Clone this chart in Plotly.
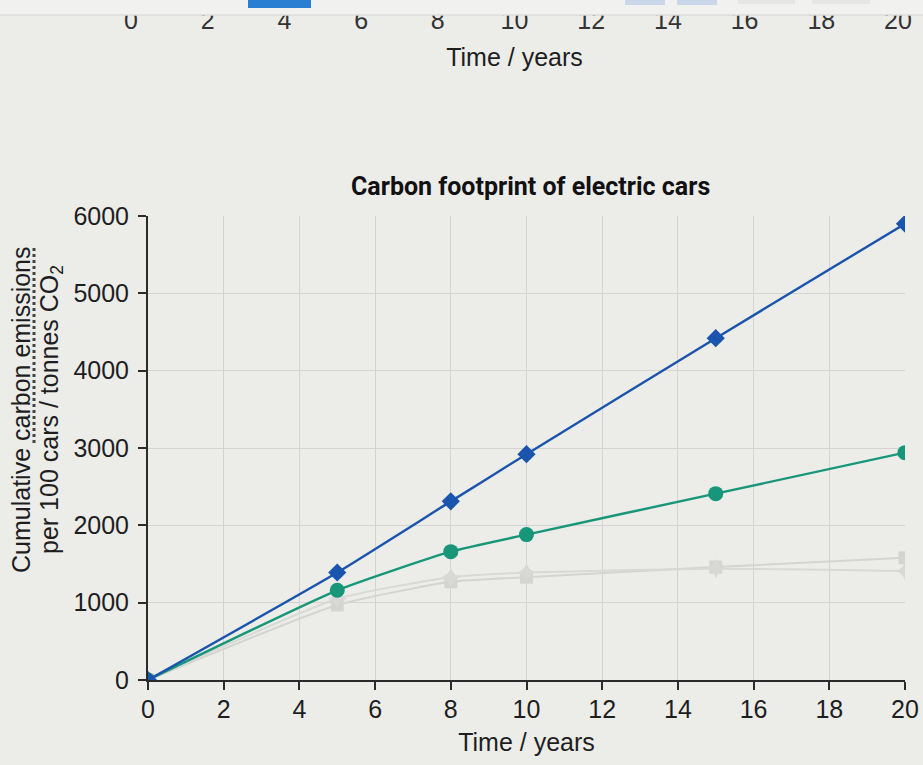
import plotly.graph_objects as go

years = [0, 5, 8, 10, 15, 20]
blue_series = [0, 1390, 2310, 2920, 4420, 5900]
green_series = [0, 1160, 1660, 1880, 2410, 2940]
gray_square = [0, 970, 1270, 1330, 1460, 1580]
gray_star = [0, 1050, 1330, 1390, 1440, 1410]

x_ticks = list(range(0, 21, 2))
y_ticks = list(range(0, 6001, 1000))

title_text = "Carbon footprint of electric cars"
x_title = "Time / years"
y_title_line1 = "Cumulative carbon emissions"
y_title_line2 = "per 100 cars / tonnes CO<sub>2</sub>"

W, H = 923, 765
PH = 680  # plot-area height (t=0, b=85)
BG = "#ecece9"
TOPBAR = "#f1f1ef"
GRID = "#d3d3d1"
AX = "#2b2b2b"
SANS = "Liberation Sans, Arial, sans-serif"

fig = go.Figure()

def add(y, color, symbol, size, lw):
    fig.add_trace(go.Scatter(
        x=years, y=y, mode="lines+markers",
        line=dict(color=color, width=lw, shape="spline", smoothing=0.5),
        marker=dict(symbol=symbol, size=size, color=color),
        showlegend=False, xaxis="x", yaxis="y"))

add(gray_square, "#d4d4d2", "square", 13, 2)
add(gray_star, "#d8d8d6", "star-diamond", 14, 2)
add(green_series, "#17967a", "circle", 15, 2.4)
add(blue_series, "#1b54ad", "diamond", 14, 2.4)

# partial top axis (previous chart cut off by the screen edge)
fig.add_trace(go.Scatter(x=[0, 20], y=[0, 0], mode="markers", marker=dict(opacity=0),
                         showlegend=False, hoverinfo="skip", xaxis="x2", yaxis="y2"))

def px_x(p):
    return p / W

def px_y(p):
    return 1 - p / PH

fig.update_layout(
    width=W, height=H,
    margin=dict(l=0, r=0, t=0, b=85),
    paper_bgcolor=BG, plot_bgcolor=BG,
    font=dict(family=SANS, color="#1e1e1e"),
    xaxis=dict(domain=[px_x(148), px_x(905)], anchor="y", range=[0, 20],
               tickvals=x_ticks, ticks="outside", ticklen=8, tickwidth=2, tickcolor=AX,
               showline=True, linecolor=AX, linewidth=2,
               showgrid=True, gridcolor=GRID, gridwidth=1, zeroline=False,
               tickfont=dict(size=25, family=SANS), ticklabelstandoff=-2,
               title=dict(text=x_title, font=dict(size=25, family=SANS), standoff=11),
               automargin=False),
    yaxis=dict(domain=[0, px_y(216)], anchor="x", range=[0, 6000],
               tickvals=y_ticks, ticks="outside", ticklen=8, tickwidth=2, tickcolor=AX,
               showline=True, linecolor=AX, linewidth=2,
               showgrid=True, gridcolor=GRID, gridwidth=1, zeroline=False,
               tickfont=dict(size=25, family=SANS), ticklabelstandoff=4,
               automargin=False),
    xaxis2=dict(domain=[px_x(131), px_x(898)], anchor="y2", range=[0, 20],
                tickvals=x_ticks, ticks="", showline=False, showgrid=False, zeroline=False,
                tickfont=dict(size=25, family=SANS, color="#333"), ticklabelstandoff=1,
                title=dict(text=x_title, font=dict(size=25, family=SANS), standoff=15),
                automargin=False),
    yaxis2=dict(domain=[0.997, 1], anchor="x2", visible=False, range=[-1, 1]),
    annotations=[
        dict(text="<b>" + title_text + "</b>", x=px_x(530), y=px_y(186),
             xref="paper", yref="paper", xanchor="center", yanchor="middle", showarrow=False,
             font=dict(size=25, family="Roboto, Arial, sans-serif", color="#111")),
        dict(text=y_title_line1, x=px_x(21), y=px_y(410), textangle=-90,
             xref="paper", yref="paper", xanchor="center", yanchor="middle", showarrow=False,
             font=dict(size=25, family=SANS, color="#1e1e1e")),
        dict(text=y_title_line2, x=px_x(51), y=px_y(410), textangle=-90,
             xref="paper", yref="paper", xanchor="center", yanchor="middle", showarrow=False,
             font=dict(size=25, family=SANS, color="#1e1e1e")),
    ],
    shapes=[
        # dotted underline (glossary link) under "carbon emissions"
        dict(type="line", xref="paper", yref="paper", x0=px_x(34), x1=px_x(34),
             y0=px_y(443), y1=px_y(245), line=dict(color="#444", width=3, dash="dot")),
        # screen top bar covering the upper part of the previous chart's tick labels
        dict(type="rect", xref="paper", yref="paper", x0=0, x1=1,
             y0=px_y(15), y1=1.05, fillcolor=TOPBAR, line=dict(width=0), layer="above"),
        dict(type="line", xref="paper", yref="paper", x0=0, x1=1,
             y0=px_y(15), y1=px_y(15), line=dict(color="#dcdcda", width=1.5), layer="above"),
        dict(type="rect", xref="paper", yref="paper", x0=px_x(248), x1=px_x(311),
             y0=px_y(8), y1=1.05, fillcolor="#2b7fd3", line=dict(width=0), layer="above"),
        dict(type="rect", xref="paper", yref="paper", x0=px_x(625), x1=px_x(665),
             y0=px_y(5), y1=1.05, fillcolor="#c9d7ea", line=dict(width=0), layer="above"),
        dict(type="rect", xref="paper", yref="paper", x0=px_x(677), x1=px_x(717),
             y0=px_y(5), y1=1.05, fillcolor="#c9d7ea", line=dict(width=0), layer="above"),
        dict(type="rect", xref="paper", yref="paper", x0=px_x(738), x1=px_x(795),
             y0=px_y(4), y1=1.05, fillcolor="#e6e6e4", line=dict(width=0), layer="above"),
        dict(type="rect", xref="paper", yref="paper", x0=px_x(812), x1=px_x(870),
             y0=px_y(4), y1=1.05, fillcolor="#e6e6e4", line=dict(width=0), layer="above"),
    ],
)

fig.write_html("out.html", config={"displayModeBar": False},
               post_script="document.body.style.margin='0';")
